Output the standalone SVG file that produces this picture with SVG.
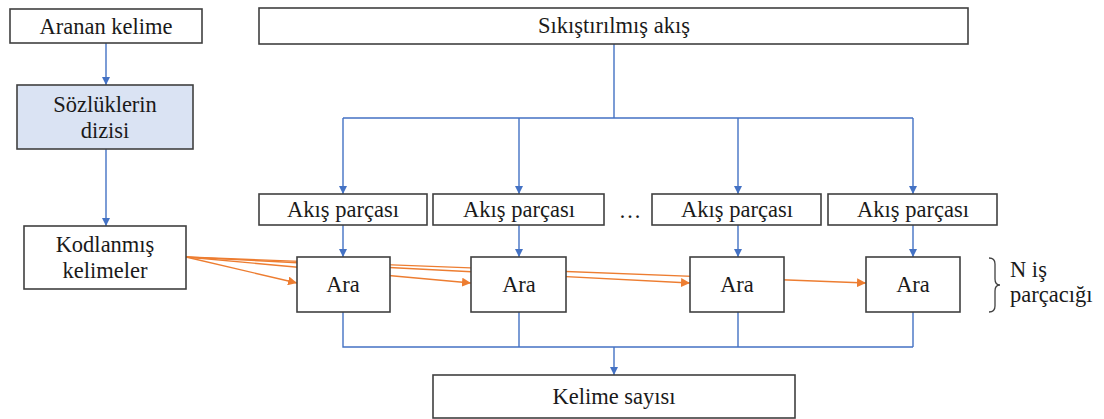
<svg xmlns="http://www.w3.org/2000/svg" width="1104" height="419" viewBox="0 0 1104 419">
<defs>
<style>
.box{fill:#fff;stroke:#404040;stroke-width:1.6}
.blue{fill:#dae3f3;stroke:#404040;stroke-width:1.6}
text{font-family:'Liberation Serif','DejaVu Serif',serif;font-size:22.5px;fill:#1a1a1a}
.t{text-anchor:middle}
.bl{stroke:#4472c4;stroke-width:1.4;fill:none}
.or{stroke:#ed7d31;stroke-width:1.4;fill:none}
</style>
<marker id="ab" viewBox="0 0 10 10" refX="10" refY="5" markerWidth="8" markerHeight="8" markerUnits="userSpaceOnUse" orient="auto"><path d="M0,0 L10,5 L0,10 z" fill="#4472c4"/></marker>
<marker id="ao" viewBox="0 0 10 10" refX="10" refY="5" markerWidth="9" markerHeight="9" markerUnits="userSpaceOnUse" orient="auto"><path d="M0,0 L10,5 L0,10 z" fill="#ed7d31"/></marker>
</defs>
<rect width="1104" height="419" fill="#fff"/>
<g id="connectors">
<path class="bl" d="M106,43 V85" marker-end="url(#ab)"/>
<path class="bl" d="M106,149 V226" marker-end="url(#ab)"/>
<path class="bl" d="M614,44 V118 M343,118 H913"/>
<path class="bl" d="M343,118 V194" marker-end="url(#ab)"/>
<path class="bl" d="M519,118 V194" marker-end="url(#ab)"/>
<path class="bl" d="M738,118 V194" marker-end="url(#ab)"/>
<path class="bl" d="M913,118 V194" marker-end="url(#ab)"/>
<path class="bl" d="M343,225 V257" marker-end="url(#ab)"/>
<path class="bl" d="M519,225 V257" marker-end="url(#ab)"/>
<path class="bl" d="M738,225 V257" marker-end="url(#ab)"/>
<path class="bl" d="M913,225 V257" marker-end="url(#ab)"/>
<path class="bl" d="M343,312 V347 H913 M519,312 V347 M738,312 V347 M913,312 V347"/>
<path class="bl" d="M614,347 V375" marker-end="url(#ab)"/>
<path class="or" d="M186,257 L866,283" marker-end="url(#ao)"/>
<path class="or" d="M186,257 L690,283" marker-end="url(#ao)"/>
<path class="or" d="M186,257 L471,283" marker-end="url(#ao)"/>
<path class="or" d="M186,257 L297,283" marker-end="url(#ao)"/>
</g>
<g id="n-aranan"><rect class="box" x="10" y="9" width="192" height="34"/><text class="t" x="106" y="34">Aranan kelime</text></g>
<g id="n-sozluk"><rect class="blue" x="17" y="85" width="176" height="64"/><text class="t" x="105" y="112">Sözlüklerin</text><text class="t" x="105" y="138">dizisi</text></g>
<g id="n-kodlanmis"><rect class="box" x="24" y="226" width="162" height="63"/><text class="t" x="105" y="252">Kodlanmış</text><text class="t" x="105" y="278">kelimeler</text></g>
<g id="n-akis"><rect class="box" x="259" y="8" width="709" height="36"/><text class="t" x="614" y="33">Sıkıştırılmış akış</text></g>
<g id="n-parca1"><rect class="box" x="259" y="194" width="168" height="31"/><text class="t" x="343" y="217">Akış parçası</text></g>
<g id="n-parca2"><rect class="box" x="433" y="194" width="171" height="31"/><text class="t" x="519" y="217">Akış parçası</text></g>
<g id="n-dots"><text class="t" x="630" y="218">…</text></g>
<g id="n-parca3"><rect class="box" x="652" y="194" width="169" height="31"/><text class="t" x="737" y="217">Akış parçası</text></g>
<g id="n-parca4"><rect class="box" x="828" y="194" width="169" height="31"/><text class="t" x="913" y="217">Akış parçası</text></g>
<g id="n-ara1"><rect class="box" x="297" y="257" width="93" height="55"/><text class="t" x="343" y="292">Ara</text></g>
<g id="n-ara2"><rect class="box" x="471" y="257" width="95" height="55"/><text class="t" x="519" y="292">Ara</text></g>
<g id="n-ara3"><rect class="box" x="690" y="257" width="94" height="55"/><text class="t" x="737" y="292">Ara</text></g>
<g id="n-ara4"><rect class="box" x="866" y="257" width="94" height="55"/><text class="t" x="913" y="292">Ara</text></g>
<g id="n-kelime"><rect class="box" x="433" y="375" width="362" height="43"/><text class="t" x="614" y="404">Kelime sayısı</text></g>
<g id="n-brace">
<path d="M989,258 Q995,258 995,264 V279 Q995,285 1000,285 Q995,285 995,291 V306 Q995,312 989,312" fill="none" stroke="#404040" stroke-width="1.3"/>
<text x="1010" y="277">N iş</text>
<text x="1010" y="302">parçacığı</text>
</g>
</svg>
